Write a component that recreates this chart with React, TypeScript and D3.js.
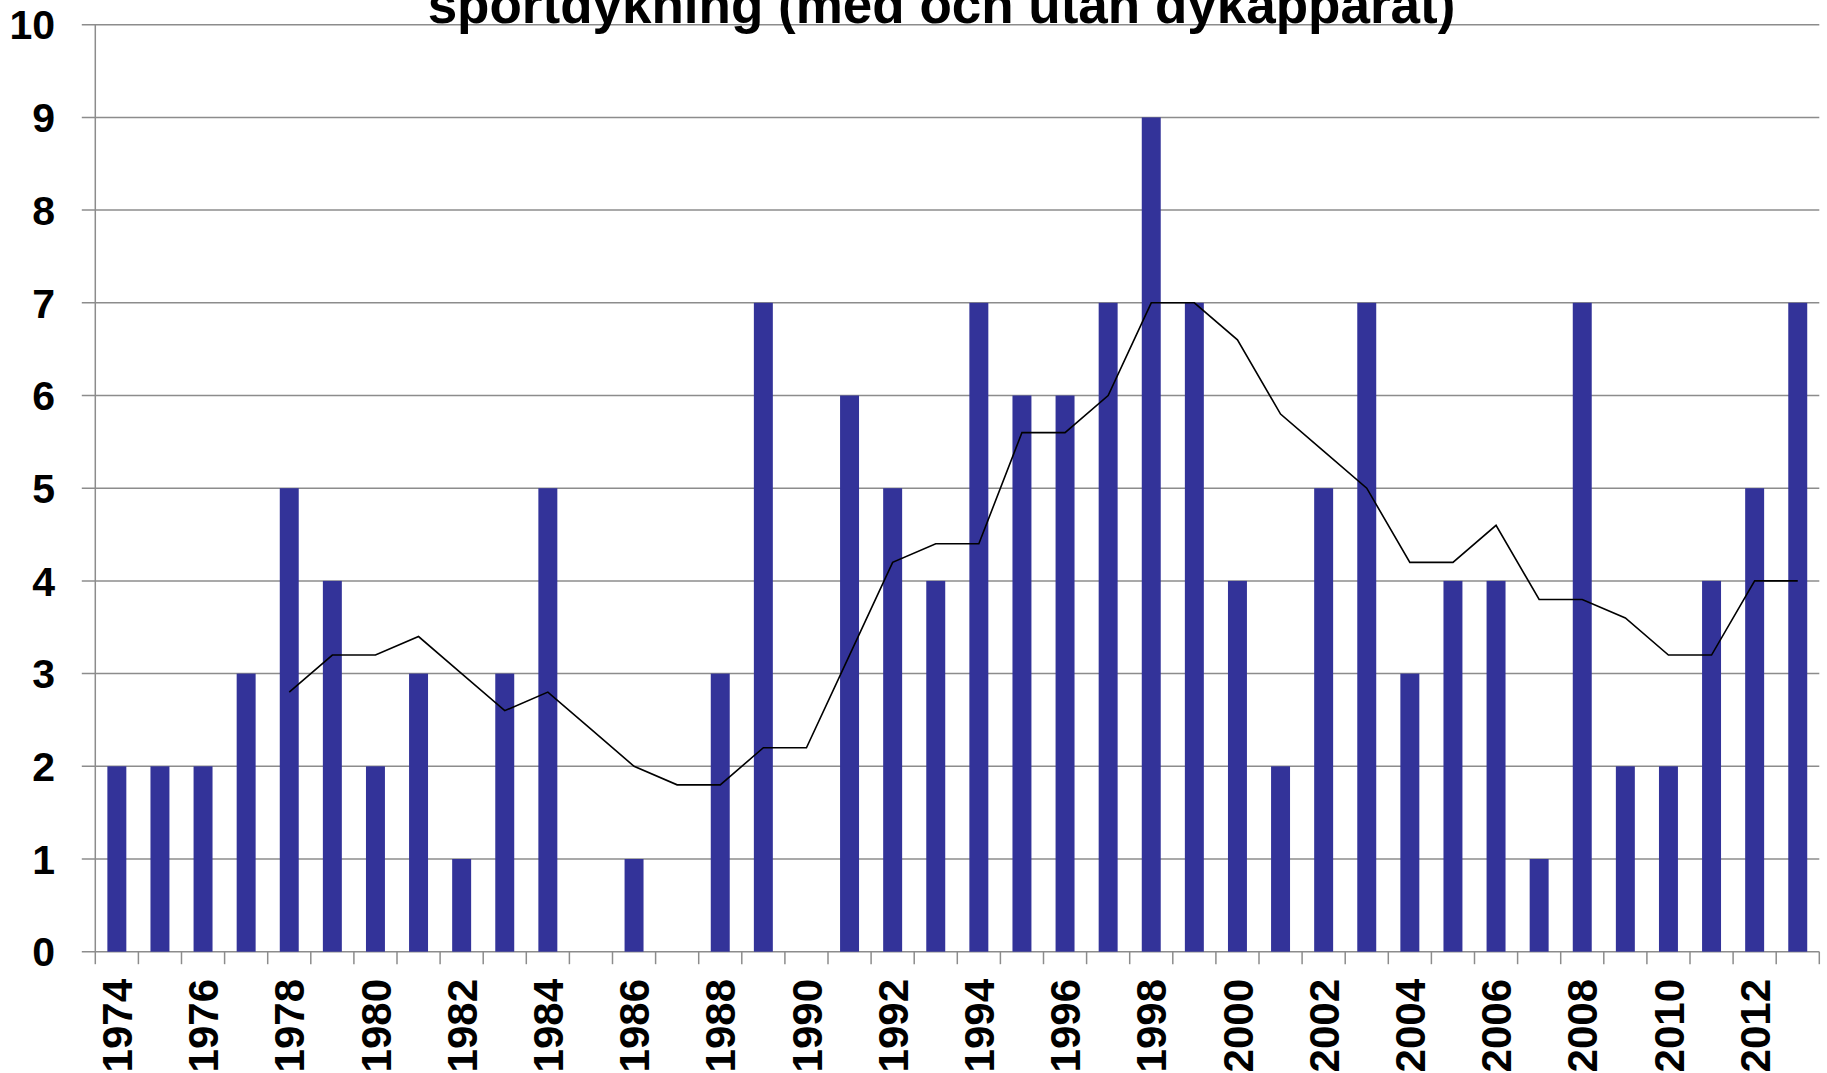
import React from "react";
import * as d3 from "d3";

const years: string[] = [
  "1974","1975","1976","1977","1978","1979","1980","1981","1982","1983",
  "1984","1985","1986","1987","1988","1989","1990","1991","1992","1993",
  "1994","1995","1996","1997","1998","1999","2000","2001","2002","2003",
  "2004","2005","2006","2007","2008","2009","2010","2011","2012","2013",
];

const deaths: number[] = [
  2, 2, 2, 3, 5, 4, 2, 3, 1, 3,
  5, 0, 1, 0, 3, 7, 0, 6, 5, 4,
  7, 6, 6, 7, 9, 7, 4, 2, 5, 7,
  3, 4, 4, 1, 7, 2, 2, 4, 5, 7,
];

// 5-year moving average (starts at 1978)
const avgYears: string[] = [
  "1978","1979","1980","1981","1982","1983","1984","1985","1986","1987",
  "1988","1989","1990","1991","1992","1993","1994","1995","1996","1997",
  "1998","1999","2000","2001","2002","2003","2004","2005","2006","2007",
  "2008","2009","2010","2011","2012","2013",
];
const avgValues: number[] = [
  2.8, 3.2, 3.2, 3.4, 3.0, 2.6, 2.8, 2.4, 2.0, 1.8,
  1.8, 2.2, 2.2, 3.2, 4.2, 4.4, 4.4, 5.6, 5.6, 6.0,
  7.0, 7.0, 6.6, 5.8, 5.4, 5.0, 4.2, 4.2, 4.6, 3.8,
  3.8, 3.6, 3.2, 3.2, 4.0, 4.0,
];

const yTicks: number[] = [0, 1, 2, 3, 4, 5, 6, 7, 8, 9, 10];
const xLabelYears: string[] = years.filter((_, i) => i % 2 === 0);

const titleText = "sportdykning (med och utan dykapparat)";

const W = 1827;
const H = 1073;
const LEFT = 95.3;
const RIGHT = 1819.3;
const TOP = 24.7;
const BOTTOM = 951.7;

const FONT = "'Liberation Sans', Arial, Helvetica, sans-serif";
const GRID = "#8c8c8c";
const BAR = "#333399";

export default function App() {
  const x = d3
    .scaleBand<string>()
    .domain(years)
    .range([LEFT, RIGHT])
    .paddingInner(0.56)
    .paddingOuter(0.28);
  const step = x.step();
  const bw = x.bandwidth();
  const cx = (d: string) => (x(d) as number) + bw / 2;

  const y = d3.scaleLinear().domain([0, 10]).range([BOTTOM, TOP]);

  const line = d3
    .line<number>()
    .x((_, i) => cx(avgYears[i]))
    .y((d) => y(d));

  const tickXs = d3.range(years.length + 1).map((i) => LEFT + i * step);

  return (
    <svg
      width={W}
      height={H}
      style={{ position: "absolute", left: 0, top: 0, background: "#fff" }}
      fontFamily={FONT}
    >
      <rect x={0} y={0} width={W} height={H} fill="#fff" />
      {/* gridlines */}
      {yTicks.map((t) => (
        <line
          key={"g" + t}
          x1={LEFT - 13.5}
          x2={RIGHT}
          y1={y(t)}
          y2={y(t)}
          stroke={GRID}
          strokeWidth={1.5}
        />
      ))}
      {/* y axis */}
      <line x1={LEFT} x2={LEFT} y1={TOP} y2={BOTTOM} stroke={GRID} strokeWidth={1.5} />
      {/* x ticks */}
      {tickXs.map((tx, i) => (
        <line
          key={"t" + i}
          x1={tx}
          x2={tx}
          y1={BOTTOM}
          y2={BOTTOM + 12.5}
          stroke={GRID}
          strokeWidth={1.5}
        />
      ))}
      {/* bars */}
      {deaths.map((v, i) => (
        <rect
          key={"b" + i}
          x={x(years[i]) as number}
          y={y(v)}
          width={bw}
          height={BOTTOM - y(v)}
          fill={BAR}
        />
      ))}
      {/* moving average */}
      <path d={line(avgValues) || ""} fill="none" stroke="#000" strokeWidth={1.6} />
      {/* y labels */}
      {yTicks.map((t) => (
        <text
          key={"yl" + t}
          x={55}
          y={y(t)}
          dy="0.36em"
          textAnchor="end"
          fontSize={41}
          fontWeight="bold"
          fill="#000"
        >
          {t}
        </text>
      ))}
      {/* x labels */}
      {xLabelYears.map((yr) => (
        <text
          key={"xl" + yr}
          transform={`translate(${cx(yr)},979) rotate(-90)`}
          dy="0.36em"
          textAnchor="end"
          fontSize={42}
          fontWeight="bold"
          fill="#000"
        >
          {yr}
        </text>
      ))}
      {/* title (second line visible) */}
      <text
        x={941.5}
        y={23}
        textAnchor="middle"
        fontSize={53}
        fontWeight="bold"
        fill="#000"
      >
        {titleText}
      </text>
    </svg>
  );
}
